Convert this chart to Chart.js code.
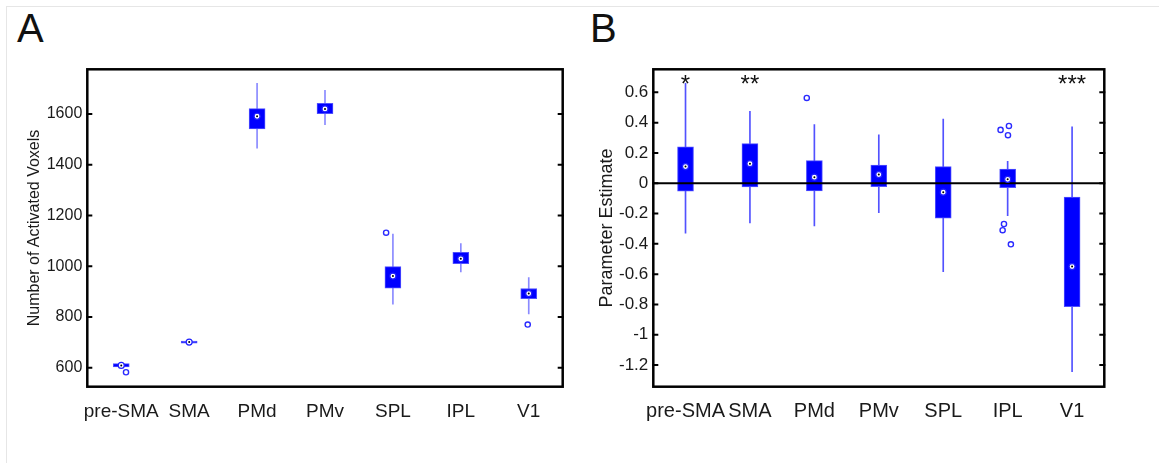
<!DOCTYPE html>
<html>
<head>
<meta charset="utf-8">
<script src="https://cdn.jsdelivr.net/npm/chart.js@4.4.0/dist/chart.umd.min.js"></script>
<style>
  html, body { margin: 0; padding: 0; background: #fff; }
  body { width: 1159px; height: 463px; position: relative; overflow: hidden; font-family: 'Liberation Sans', Arial, sans-serif; }
  .sheet { position: absolute; left: 6px; top: 6px; right: 0; bottom: 0; border-top: 1px solid #e6e6e6; border-left: 1px solid #e6e6e6; }
  .panel-letter { position: absolute; font-size: 40px; line-height: 40px; color: #111; }
  canvas { position: absolute; top: 0; }
</style>
</head>
<body>
<div class="sheet"></div>
<div class="panel-letter" style="left:17px; top:8px;">A</div>
<div class="panel-letter" style="left:590px; top:8px;">B</div>
<canvas id="chartA" width="580" height="463" style="left:0px;"></canvas>
<canvas id="chartB" width="579" height="463" style="left:580px;"></canvas>
<script>
// regions
const categories = ['pre-SMA', 'SMA', 'PMd', 'PMv', 'SPL', 'IPL', 'V1'];

// panel A - number of activated voxels
const q1A = [603, 697, 1541, 1601, 913, 1010, 872];
const q3A = [616, 705, 1621, 1642, 998, 1055, 912];
const medianA = [609, 701, 1591, 1620, 961, 1029, 892];
const whiskerLoA = [603, 697, 1465, 1558, 850, 977, 812];
const whiskerHiA = [616, 705, 1721, 1693, 1127, 1089, 955];
const outlierCatA = [1, 5, 7];
const outlierValA = [582, 1132, 770];
const outlierJitterA = [0.07, -0.1, -0.015];
const yTicksA = [600, 800, 1000, 1200, 1400, 1600];

// panel B - parameter estimate
const q1B = [-0.053, -0.024, -0.051, -0.022, -0.231, -0.029, -0.814];
const q3B = [0.240, 0.261, 0.149, 0.119, 0.110, 0.094, -0.092];
const medianB = [0.110, 0.129, 0.040, 0.057, -0.059, 0.026, -0.550];
const whiskerLoB = [-0.330, -0.262, -0.282, -0.194, -0.583, -0.214, -1.243];
const whiskerHiB = [0.660, 0.475, 0.387, 0.319, 0.424, 0.145, 0.372];
const outlierCatB = [3, 6, 6, 6, 6, 6, 6];
const outlierValB = [0.563, 0.352, 0.378, 0.317, -0.269, -0.310, -0.403];
const outlierJitterB = [-0.118, -0.11, 0.02, 0.005, -0.057, -0.078, 0.05];
const yTicksB = [-1.2, -1, -0.8, -0.6, -0.4, -0.2, 0, 0.2, 0.4, 0.6];
const sigB = ['*', '**', '', '', '', '', '***'];

const FONT = "'Liberation Sans', Arial, sans-serif";

// box frame + inward tick marks, plus significance stars
const framePlugin = {
    id: 'frame',
    afterDatasetsDraw(chart, args, opts) {
        const { ctx, chartArea: a, scales: { x, y } } = chart;
        ctx.save();
        ctx.strokeStyle = '#000';
        ctx.lineWidth = 2;
        y.ticks.forEach(t => {
            const py = y.getPixelForValue(t.value);
            ctx.beginPath();
            ctx.moveTo(a.left - 1, py); ctx.lineTo(a.left + 5, py);
            ctx.moveTo(a.right + 1, py); ctx.lineTo(a.right - 5, py);
            ctx.stroke();
        });
        ctx.lineWidth = 2.5;
        ctx.strokeRect(a.left, a.top, a.right - a.left, a.bottom - a.top);

        if (opts.stars) {
            ctx.fillStyle = '#111';
            ctx.font = '24px ' + FONT;
            ctx.textAlign = 'center';
            ctx.textBaseline = 'alphabetic';
            opts.stars.forEach((s, i) => {
                if (!s) return;
                const px = x.getPixelForValue(i + 1);
                const py = y.getPixelForValue(opts.starValue) + 12;
                ctx.fillText(s, px, py);
            });
        }
        ctx.restore();
    }
};

function makeBoxChart(canvasId, p) {
    const whiskers = categories.map((c, i) => ({ x: i + 1, y: [p.lo[i], p.hi[i]] }));
    const boxes = categories.map((c, i) => ({ x: i + 1, y: [p.q1[i], p.q3[i]] }));
    const medians = categories.map((c, i) => ({ x: i + 1, y: p.med[i] }));
    const outliers = p.outCat.map((c, i) => ({ x: c + p.outJitter[i], y: p.outVal[i] }));

    const datasets = [
        {
            type: 'bar', label: 'whisker', data: whiskers, grouped: false,
            barThickness: 1, backgroundColor: p.whiskerColor, borderWidth: 0, order: 6
        },
        {
            type: 'bar', label: 'box', data: boxes, grouped: false,
            barThickness: 16, backgroundColor: '#0000ff', borderColor: '#5050ff',
            borderWidth: 1, borderSkipped: false, order: 5
        },
        {
            type: 'scatter', label: 'outliers', data: outliers,
            pointRadius: 2.6, pointBorderWidth: 1.4, pointBorderColor: '#2b2bff',
            pointBackgroundColor: 'rgba(255,255,255,0)', order: 2
        },
        {
            type: 'scatter', label: 'median', data: medians,
            pointRadius: 3, pointBorderWidth: 1.2, pointBorderColor: '#1f1fff',
            pointBackgroundColor: '#ffffff', order: 1
        },
        {
            type: 'scatter', label: 'median dot', data: medians,
            pointRadius: 1, pointBorderWidth: 0, pointBackgroundColor: '#000', order: 0
        }
    ];
    if (p.zeroLine) {
        datasets.push({
            type: 'line', label: 'zero', data: [{ x: 0.5, y: 0 }, { x: 7.5, y: 0 }],
            borderColor: '#000', borderWidth: 2, pointRadius: 0, order: 3
        });
    }

    return new Chart(document.getElementById(canvasId), {
        data: { datasets: datasets },
        plugins: [framePlugin],
        options: {
            responsive: false,
            animation: false,
            events: [],
            layout: { padding: p.padding },
            plugins: {
                legend: { display: false },
                tooltip: { enabled: false },
                frame: { stars: p.stars, starValue: p.starValue }
            },
            scales: {
                x: {
                    type: 'linear', min: 0.5, max: 7.5, offset: false,
                    grid: { display: false, drawTicks: false },
                    border: { display: false },
                    afterBuildTicks: s => { s.ticks = categories.map((c, i) => ({ value: i + 1 })); },
                    afterFit: s => { s.height = p.xHeight; },
                    ticks: {
                        padding: p.xPad, maxRotation: 0, autoSkip: false,
                        color: '#1a1a1a', font: { family: FONT, size: p.xFont },
                        callback: v => categories[Math.round(v) - 1]
                    }
                },
                y: {
                    type: 'linear', min: p.yMin, max: p.yMax,
                    grid: { display: false, drawTicks: false },
                    border: { display: false },
                    afterBuildTicks: s => { s.ticks = p.yTicks.map(v => ({ value: v })); },
                    afterFit: s => { s.width = p.yWidth; },
                    ticks: {
                        padding: 5, color: '#1a1a1a', font: { family: FONT, size: p.yFont },
                        callback: v => String(+Number(v).toFixed(1))
                    },
                    title: {
                        display: true, text: p.yTitle, color: '#1a1a1a',
                        font: { family: FONT, size: p.titleFont },
                        padding: { top: p.titlePad, bottom: 0 }
                    }
                }
            }
        }
    });
}

makeBoxChart('chartA', {
    q1: q1A, q3: q3A, med: medianA, lo: whiskerLoA, hi: whiskerHiA,
    outCat: outlierCatA, outVal: outlierValA, outJitter: outlierJitterA,
    yTicks: yTicksA, yMin: 525, yMax: 1776,
    whiskerColor: '#8a8aff', zeroLine: false,
    yTitle: 'Number of Activated Voxels', titleFont: 16, titlePad: 25,
    yFont: 16, xFont: 19, xPad: 14, xHeight: 76.3, yWidth: 87.3,
    padding: { left: 0, right: 17.3, top: 69.3, bottom: 0 }
});

makeBoxChart('chartB', {
    q1: q1B, q3: q3B, med: medianB, lo: whiskerLoB, hi: whiskerHiB,
    outCat: outlierCatB, outVal: outlierValB, outJitter: outlierJitterB,
    yTicks: yTicksB, yMin: -1.343, yMax: 0.752,
    whiskerColor: '#5252ff', zeroLine: true,
    stars: sigB, starValue: 0.68,
    yTitle: 'Parameter Estimate', titleFont: 18, titlePad: 16,
    yFont: 17, xFont: 20, xPad: 13, xHeight: 76.3, yWidth: 73.3,
    padding: { left: 0, right: 54.7, top: 69.3, bottom: 0 }
});
</script>
</body>
</html>
